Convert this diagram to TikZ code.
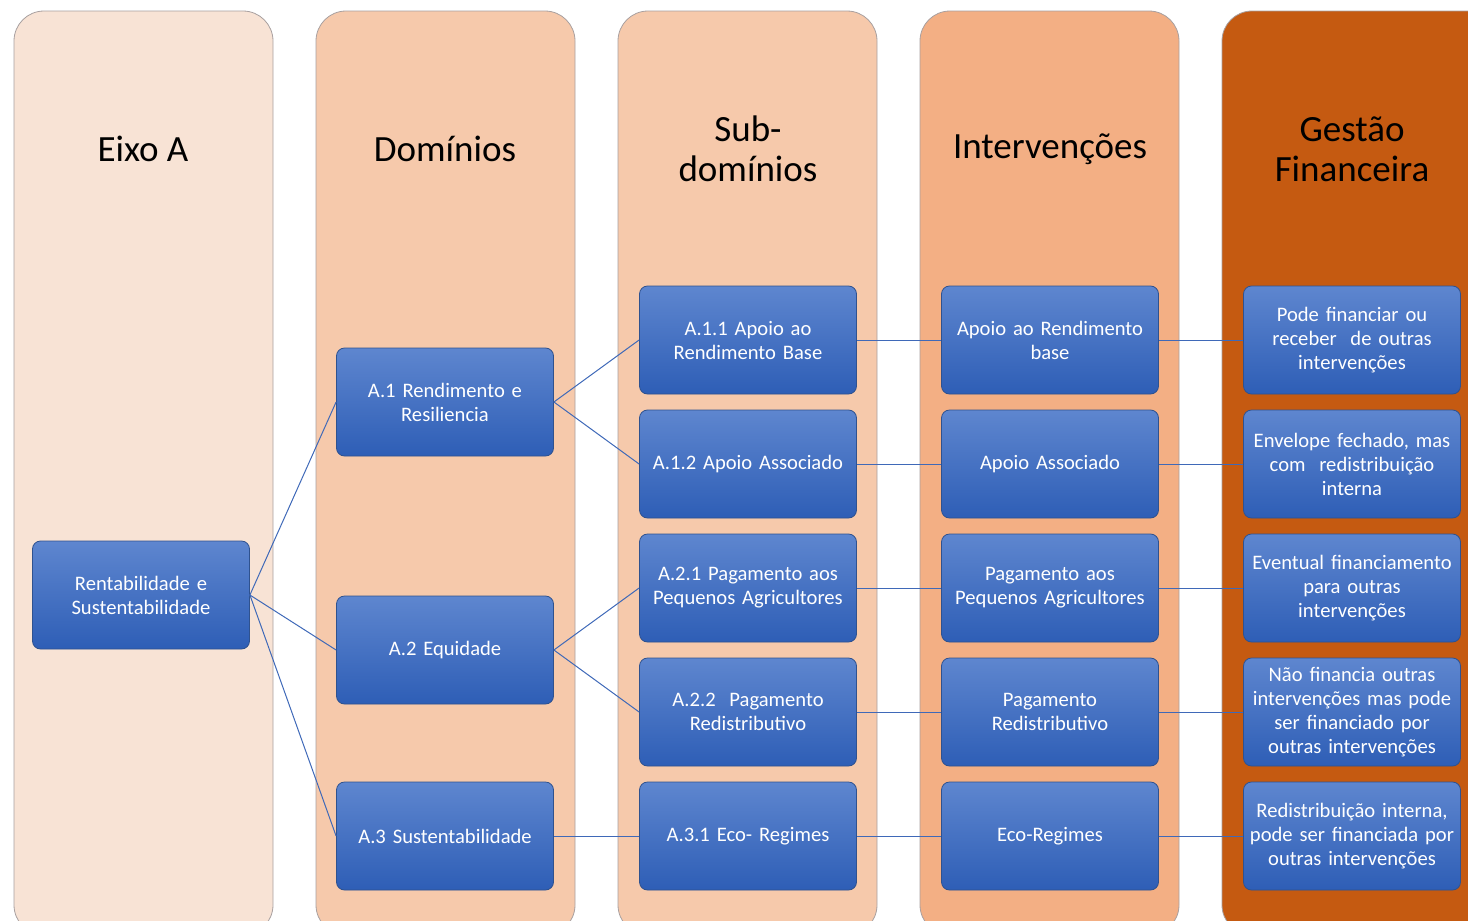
\documentclass[tikz,border=0pt]{standalone}
\usepackage{fontspec}
\setmainfont{Carlito}
\definecolor{colA}{HTML}{F8E3D5}
\definecolor{colB}{HTML}{F6C9AB}
\definecolor{colC}{HTML}{F6C9AB}
\definecolor{colD}{HTML}{F3AF84}
\definecolor{colE}{HTML}{C55A11}
\definecolor{colborder}{HTML}{A8A0A0}
\definecolor{btop}{HTML}{5E86CF}
\definecolor{bbot}{HTML}{2E5EB6}
\definecolor{bdraw}{HTML}{2F528F}
\definecolor{linkc}{HTML}{3F69B8}
\begin{document}
\begin{tikzpicture}[x=1pt,y=-1pt,
  column/.style={draw=colborder, line width=0.8pt, rounded corners=30pt},
  title/.style={font=\fontsize{37}{40}\selectfont, align=center, text=black},
  box/.style={rectangle, rounded corners=8pt, draw=bdraw, line width=0.8pt,
    top color=btop, bottom color=bbot, minimum width=217pt, minimum height=108pt,
    text width=214pt, align=center, inner sep=0pt, text=white,
    font=\fontsize{20.6}{24}\selectfont},
  link/.style={draw=linkc, line width=1pt}]
\useasboundingbox (0,0) rectangle (1468,921);
\begin{scope}
\clip (0,0) rectangle (1468,921);
\path[column, fill=colA] (14,11) rectangle (273,935);
\path[column, fill=colB] (316,11) rectangle (575,935);
\path[column, fill=colC] (618,11) rectangle (877,935);
\path[column, fill=colD] (920,11) rectangle (1179,935);
\path[column, fill=colE] (1222,11) rectangle (1500,935);
\end{scope}
\node[title] (t1) at (143,149) {Eixo A};
\node[title] (t2) at (445,149) {Domínios};
\node[title] (t3) at (748,149) {Sub-\\domínios};
\node[title] (t4) at (1050,149) {Intervenções};
\node[title] (t5) at (1352,149) {Gestão\\Financeira};

\node[box] (r) at (141,595) {Rentabilidade e\\Sustentabilidade};
\node[box] (a1) at (445,402) {A.1 Rendimento e\\Resiliencia};
\node[box] (a2) at (445,650) {A.2 Equidade};
\node[box] (a3) at (445,836) {A.3 Sustentabilidade};

\node[box] (s11) at (748,340) {A.1.1 Apoio ao\\Rendimento Base};
\node[box] (s12) at (748,464) {A.1.2 Apoio Associado};
\node[box] (s21) at (748,588) {A.2.1 Pagamento aos\\Pequenos Agricultores};
\node[box] (s22) at (748,712) {A.2.2\ \ Pagamento\\Redistributivo};
\node[box] (s31) at (748,836) {A.3.1 Eco- Regimes};

\node[box] (i1) at (1050,340) {Apoio ao Rendimento\\base};
\node[box] (i2) at (1050,464) {Apoio Associado};
\node[box] (i3) at (1050,588) {Pagamento aos\\Pequenos Agricultores};
\node[box] (i4) at (1050,712) {Pagamento\\Redistributivo};
\node[box] (i5) at (1050,836) {Eco-Regimes};

\node[box] (g1) at (1352,340) {Pode financiar ou\\receber\ \ de outras\\intervenções};
\node[box] (g2) at (1352,464) {Envelope fechado, mas\\com\ \ redistribuição\\interna};
\node[box] (g3) at (1352,588) {Eventual financiamento\\para outras\\intervenções};
\node[box] (g4) at (1352,712) {Não financia outras\\intervenções mas pode\\ser financiado por\\outras intervenções};
\node[box] (g5) at (1352,836) {Redistribuição interna,\\pode ser financiada por\\outras intervenções};

\draw[link] (r.east) -- (a1.west);
\draw[link] (r.east) -- (a2.west);
\draw[link] (r.east) -- (a3.west);
\draw[link] (a1.east) -- (s11.west);
\draw[link] (a1.east) -- (s12.west);
\draw[link] (a2.east) -- (s21.west);
\draw[link] (a2.east) -- (s22.west);
\draw[link] (a3.east) -- (s31.west);
\draw[link] (s11.east) -- (i1.west);
\draw[link] (s12.east) -- (i2.west);
\draw[link] (s21.east) -- (i3.west);
\draw[link] (s22.east) -- (i4.west);
\draw[link] (s31.east) -- (i5.west);
\draw[link] (i1.east) -- (g1.west);
\draw[link] (i2.east) -- (g2.west);
\draw[link] (i3.east) -- (g3.west);
\draw[link] (i4.east) -- (g4.west);
\draw[link] (i5.east) -- (g5.west);
\end{tikzpicture}
\end{document}
